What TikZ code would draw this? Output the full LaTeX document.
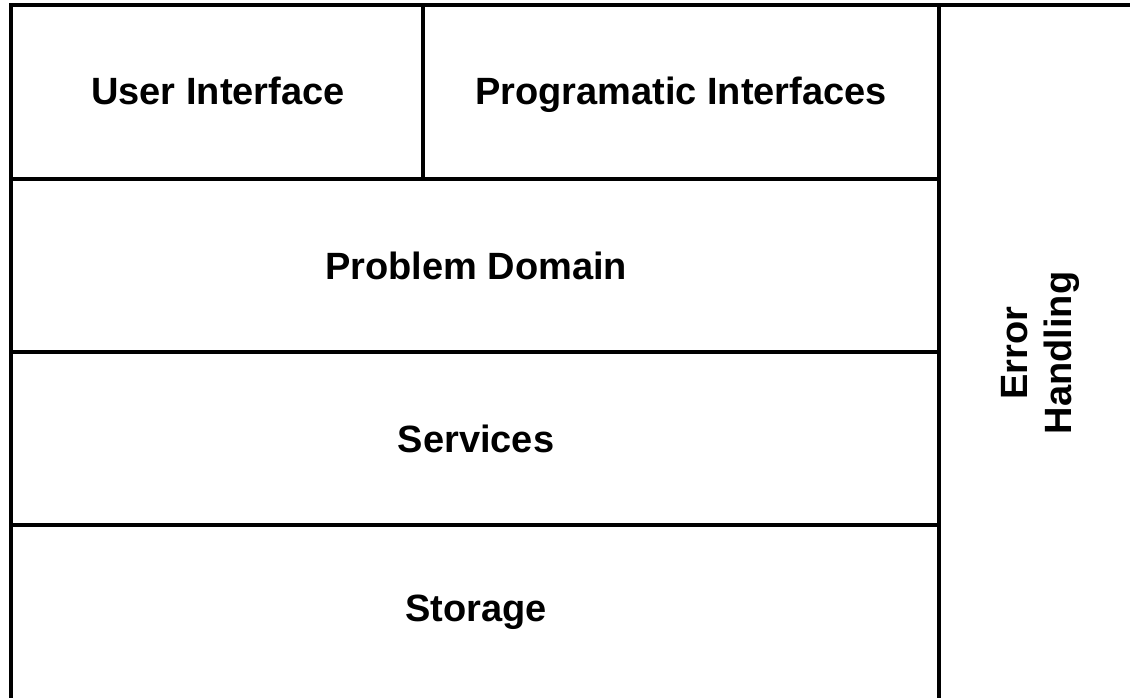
\documentclass[tikz,border=0pt]{standalone}
\usepackage{fontspec}
\setmainfont{Liberation Sans}
\tikzset{
  box/.style={draw=black, line width=2.4pt},
  lbl/.style={font=\fontsize{28.5pt}{33pt}\selectfont\bfseries, align=center, inner sep=0pt}
}
\begin{document}
\begin{tikzpicture}[x=0.75pt, y=-0.75pt]
\useasboundingbox (0,0) rectangle (1130,698);
\clip (0,0) rectangle (1130,698);
\fill[white] (0,0) rectangle (1130,698);
\draw[box] (11,5) rectangle (423,179);
\draw[box] (423,5) rectangle (939,179);
\draw[box] (11,179) rectangle (939,352);
\draw[box] (11,352) rectangle (939,525);
\draw[box] (11,525) rectangle (939,712);
\draw[box] (939,5) rectangle (1145,712);
\node[lbl, anchor=base] (ui) at (218,105) {User Interface};
\node[lbl, anchor=base] (pi) at (681,105) {Programatic Interfaces};
\node[lbl] (pd) at (476,266) {Problem Domain};
\node[lbl] (sv) at (476,439) {Services};
\node[lbl] (st) at (476,612) {Storage};
\node[lbl, rotate=90] (eh) at (1040,353) {Error\\Handling};
\end{tikzpicture}
\end{document}
